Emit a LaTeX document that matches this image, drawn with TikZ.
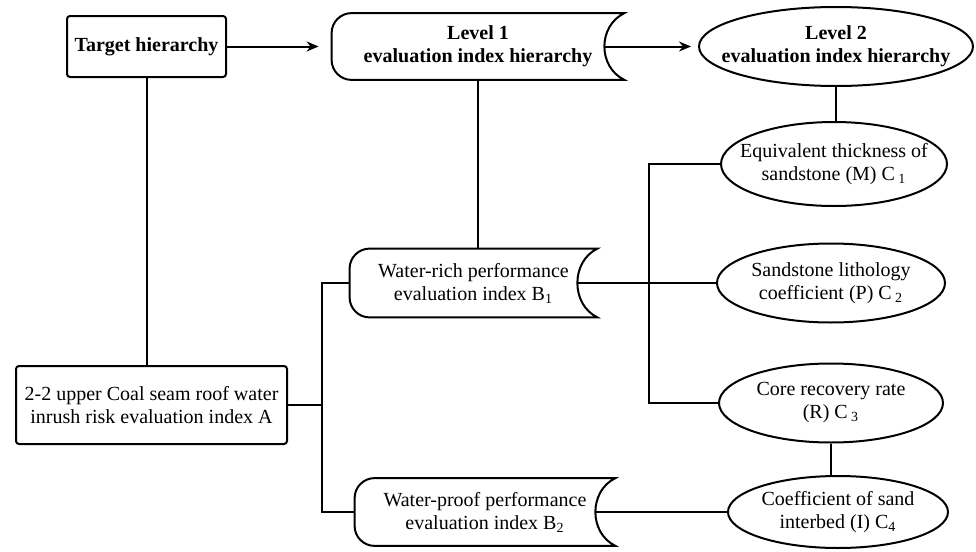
\documentclass[tikz,border=0pt]{standalone}
\usepackage{fontspec}
\setmainfont{Liberation Serif}
\usetikzlibrary{calc, positioning}
\usetikzlibrary{arrows.meta}
\usetikzlibrary{shapes.geometric}

\begin{document}
\begin{tikzpicture}[x=0.5pt, y=-0.5pt,
  every node/.style={font=\fontsize{10}{11.5}\selectfont, align=center, inner sep=0pt},
  rbox/.style={draw, line width=1pt, rounded corners=1.5pt},
  oval/.style={draw, line width=1pt, ellipse, inner xsep=-12pt},
  stored/.style={rectangle},
  link/.style={line width=1pt}]
\useasboundingbox (0,0) rectangle (976,552);

\coordinate (jA) at (322,0);
\coordinate (jC) at (649,0);

\node[rbox, minimum width=79.5pt, minimum height=30.5pt] (T) at (146.5,46.5) {\textbf{Target hierarchy}};
\node[stored, minimum width=146pt, minimum height=33pt] (L1) at (478,46.5) {\textbf{Level 1}\\\textbf{evaluation index hierarchy}};
\node[oval, minimum width=137pt, minimum height=39.5pt] (L2) at (836,46.5) {\textbf{Level 2}\\\textbf{evaluation index hierarchy}};

\node[rbox, minimum width=135.5pt, minimum height=39pt] (A) at (151.5,405) {2-2 upper Coal seam roof water\\inrush risk evaluation index A};

\node[stored, minimum width=123.5pt, minimum height=34pt] (B1) at (473.5,283) {Water-rich performance\\evaluation index B\textsubscript{1}};
\node[stored, minimum width=130pt, minimum height=33.5pt] (B2) at (485,512) {Water-proof performance\\evaluation index B\textsubscript{2}};

\node[oval, minimum width=113pt, minimum height=42pt] (C1) at (834,164) {Equivalent thickness of\\sandstone (M) C\,\textsubscript{1}};
\node[oval, minimum width=114pt, minimum height=39.5pt] (C2) at (831,283) {Sandstone lithology\\coefficient (P) C\,\textsubscript{2}};
\node[oval, minimum width=112pt, minimum height=39.5pt] (C3) at (831,403) {Core recovery rate\\(R) C\,\textsubscript{3}};
\node[oval, minimum width=110pt, minimum height=36pt] (C4) at (838,512) {Coefficient of sand\\interbed (I) C\textsubscript{4}};

\foreach \n in {L1,B1,B2}
  \draw[line width=1pt] (\n.north) -- (\n.north east)
    .. controls ([shift={(-13.35pt,-6.5pt)}]\n.north east) and ([shift={(-13.35pt,6.5pt)}]\n.south east) .. (\n.south east)
    [rounded corners=10pt] -- (\n.south west) -- (\n.north west) -- cycle;

\draw[link, -{Stealth[length=6pt, width=5pt]}, shorten >=6.5pt] (T.east) -- (L1.west);
\draw[link, -{Stealth[length=6pt, width=5pt]}, shorten >=3.5pt] ([xshift=-10pt]L1.east) -- (L2.west);

\draw[link] (T.south) -- (T.south |- A.north);
\draw[link] (L1.south) -- (L1.south |- B1.north);
\draw[link] (L2.south) -- (L2.south |- C1.north);
\draw[link] (C3.south) -- (C3.south |- C4.north);

\draw[link] (A.east) -- (A.east -| jA);
\draw[link] (B1.west) -- (B1.west -| jA) -- (B2.west -| jA) -- (B2.west);
\draw[link] ([xshift=-10pt]B1.east) -- (C2.west);
\draw[link] ([xshift=-10pt]B2.east) -- (C4.west);
\draw[link] (C1.west) -- (C1.west -| jC) -- (C3.west -| jC) -- (C3.west);
\end{tikzpicture}
\end{document}
